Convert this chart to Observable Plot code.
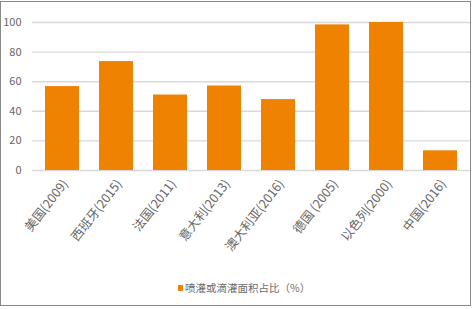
<!DOCTYPE html>
<html>
<head>
<meta charset="utf-8">
<script src="https://cdn.jsdelivr.net/npm/d3@7"></script>
<script src="https://cdn.jsdelivr.net/npm/@observablehq/plot@0.6"></script>
<style>
  html, body { margin: 0; padding: 0; background: #fff; }
  #wrap { position: relative; width: 473px; height: 309px; overflow: hidden; font-family: "Noto Sans CJK SC", "Noto Sans", sans-serif; }
  #frame { position: absolute; left: 0; top: 1px; width: 471px; height: 305px; box-sizing: border-box; border: 1px solid #8a8a8a; pointer-events: none; }
  #chart { position: absolute; left: 0; top: 0; }
  #legend { position: absolute; left: 178px; top: 280px; font-size: 10.5px; color: #6b6b6b; display: flex; align-items: center; white-space: nowrap; }
  #legend .sw { width: 5px; height: 6px; background: #ef8200; margin-right: 2px; }
</style>
</head>
<body>
<div id="wrap">
  <div id="chart"></div>
  <div id="legend"><span class="sw"></span><span id="legend-label"></span></div>
  <div id="frame"></div>
</div>
<script>
// Countries (with survey year) and their share of sprinkler / drip irrigated area
const countries = ["美国(2009)", "西班牙(2015)", "法国(2011)", "意大利(2013)", "澳大利亚(2016)", "德国 (2005)", "以色列(2000)", "中国(2016)"];
const shares = [56.7, 73.6, 51.0, 57.1, 47.9, 98.4, 100, 13.3];
const yTicks = [0, 20, 40, 60, 80, 100];
const seriesName = "喷灌或滴灌面积占比（%）";

const data = countries.map((c, i) => ({country: c, share: shares[i]}));

const font = "'Noto Sans CJK SC', 'Noto Sans', sans-serif";
const textColor = "#666";
const barColor = "#ef8200";

const chart = Plot.plot({
  width: 473,
  height: 265,
  marginTop: 22,
  marginLeft: 32,
  marginRight: 3,
  marginBottom: 95,
  style: {fontFamily: font, background: "transparent"},
  x: {domain: countries, paddingInner: 0.37, paddingOuter: 0.185, label: null},
  y: {domain: [0, 100], label: null},
  marks: [
    Plot.ruleY(yTicks, {stroke: "#d9d9d9", strokeWidth: 1.4}),
    Plot.barY(data, {x: "country", y: "share", fill: barColor}),
    Plot.axisX({tickSize: 0, tickRotate: -52, tickPadding: 11, dx: 3, fontSize: 12.5, fill: textColor, label: null}),
    Plot.axisY({ticks: yTicks, tickSize: 0, tickPadding: 11, fontSize: 11, fill: textColor, label: null})
  ]
});

document.getElementById("chart").appendChild(chart);
document.getElementById("legend-label").textContent = seriesName;
</script>
</body>
</html>
